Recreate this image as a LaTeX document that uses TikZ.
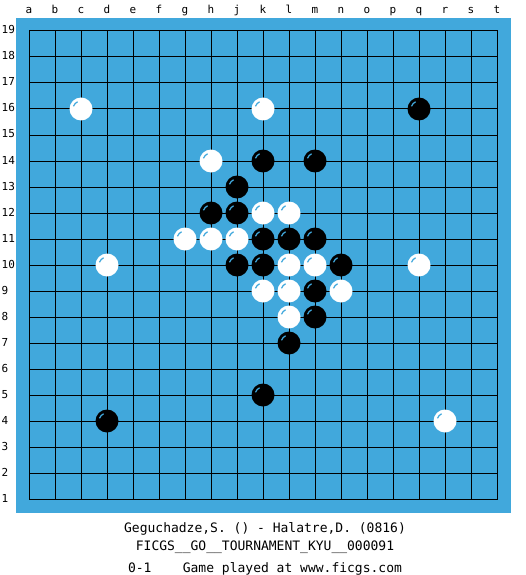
\documentclass[tikz,border=0pt]{standalone}
\usepackage{fontspec}
\setmonofont{DejaVu Sans Mono}
\definecolor{board}{RGB}{65,168,220}
\begin{document}
\begin{tikzpicture}[x=1pt, y=-1pt,
    stone/.style={circle, inner sep=0pt, minimum size=23pt},
    wstone/.style={stone, fill=white},
    bstone/.style={stone, fill=black},
    shine/.style={board, line width=1.2pt},
    coordlabel/.style={font=\ttfamily\fontsize{11}{11}\selectfont, anchor=base},
    caption/.style={font=\ttfamily\fontsize{13}{13}\selectfont, anchor=base}]
    \useasboundingbox (0,0) rectangle (525,575);
    \fill[board] (16,18) rectangle (511,513);

    % grid
    \foreach \i in {0,...,18} {
        \draw[line width=1pt, line cap=rect] (29+26*\i,31) -- (29+26*\i,499);
        \draw[line width=1pt, line cap=rect] (29,31+26*\i) -- (497,31+26*\i);
    }

    % board coordinates
    \foreach \l [count=\i from 0] in {a,b,c,d,e,f,g,h,j,k,l,m,n,o,p,q,r,s,t}
        \node[coordlabel] (col-\l) at (29+26*\i,14) {\l};
    \foreach \r in {1,...,19}
        \node[coordlabel, anchor=base west, inner sep=0pt] (row-\r) at (1.5,528-26*\r) {\r};

    % stones
    \foreach \c/\r in {3/16,10/16,8/14,10/12,11/12,7/11,8/11,9/11,4/10,
                       11/10,12/10,16/10,10/9,11/9,13/9,11/8,17/4} {
        \node[wstone] (w-\c-\r) at (3+26*\c,525-26*\r) {};
        \draw[shine] ([shift={(115:8pt)}]w-\c-\r.center)
            arc[start angle=115, end angle=160, radius=8pt];
    }
    \foreach \c/\r in {16/16,10/14,12/14,9/13,8/12,9/12,10/11,11/11,12/11,
                       9/10,10/10,13/10,12/9,12/8,11/7,10/5,4/4} {
        \node[bstone] (b-\c-\r) at (3+26*\c,525-26*\r) {};
        \draw[shine] ([shift={(115:8pt)}]b-\c-\r.center)
            arc[start angle=115, end angle=160, radius=8pt];
    }

    % game info
    \node[caption] (players) at (265,532) {Geguchadze,S. () - Halatre,D. (0816)};
    \node[caption] (event) at (265,550) {FICGS\_\_GO\_\_TOURNAMENT\_KYU\_\_000091};
    \node[caption] (result) at (265,572) {0-1\ \ \ \ Game played at www.ficgs.com};
\end{tikzpicture}
\end{document}
